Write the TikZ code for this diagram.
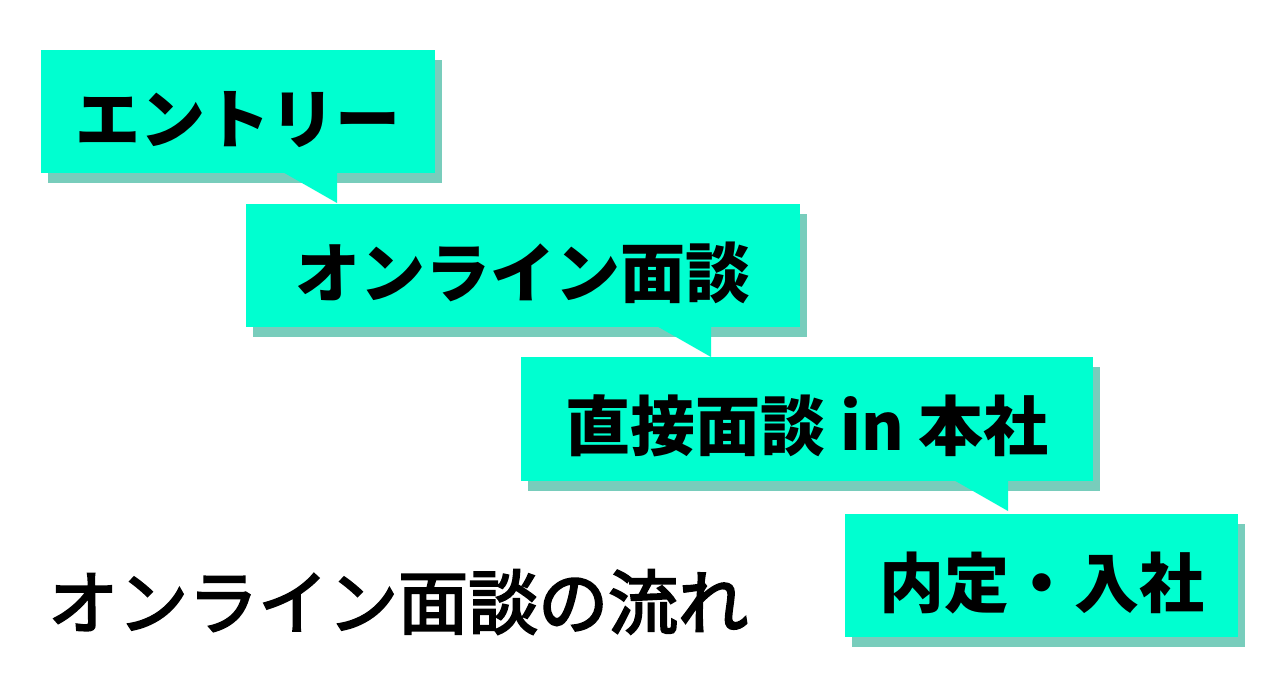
\documentclass[tikz,border=0pt]{standalone}
\usepackage{fontspec}
\newfontfamily\jp{Noto Sans CJK JP}
\newfontfamily\jptitle[FakeBold=3]{Noto Sans CJK JP}
\usetikzlibrary{shadows,calc}
\definecolor{boxfill}{RGB}{0,255,208}
\definecolor{boxshade}{RGB}{120,205,188}

\tikzset{
  balloon/.style={fill=boxfill,inner sep=0pt,align=center,
    text height=66pt,text depth=3pt,
    font=\jp\bfseries\fontsize{65}{65}\selectfont,
    drop shadow={fill=boxshade,opacity=1,shadow xshift=7pt,shadow yshift=-10pt}},
  tail/.style={fill=boxfill}
}

\begin{document}
\begin{tikzpicture}[x=1pt,y=-1pt]
\useasboundingbox[fill=white] (0,0) rectangle (1280,680);

% steps
\node[balloon,minimum width=394pt,minimum height=123pt] (entry)  at (238,111.5)  {エントリー};
\node[balloon,minimum width=554pt,minimum height=123pt] (online) at (523,265.5)  {オンライン面談};
\node[balloon,minimum width=572pt,minimum height=124pt] (direct) at (807,419)    {直接面談 in 本社};
\node[balloon,minimum width=393pt,minimum height=123pt] (offer)  at (1041.5,575.5) {内定・入社};

% tails
\coordinate (t1) at (337,203);
\coordinate (t2) at (711,357);
\coordinate (t3) at (1008,511);
\fill[tail] ($(entry.south -| t1)+(0,-1)$)  -- ++(-54,0) -- (t1) -- cycle;
\fill[tail] ($(online.south -| t2)+(0,-1)$) -- ++(-54,0) -- (t2) -- cycle;
\fill[tail] ($(direct.south -| t3)+(0,-1)$) -- ++(-54,0) -- (t3) -- cycle;

\node[anchor=west,inner sep=0pt,font=\jptitle\fontsize{70}{70}\selectfont] (title) at (48,602) {オンライン面談の流れ};

\end{tikzpicture}
\end{document}
